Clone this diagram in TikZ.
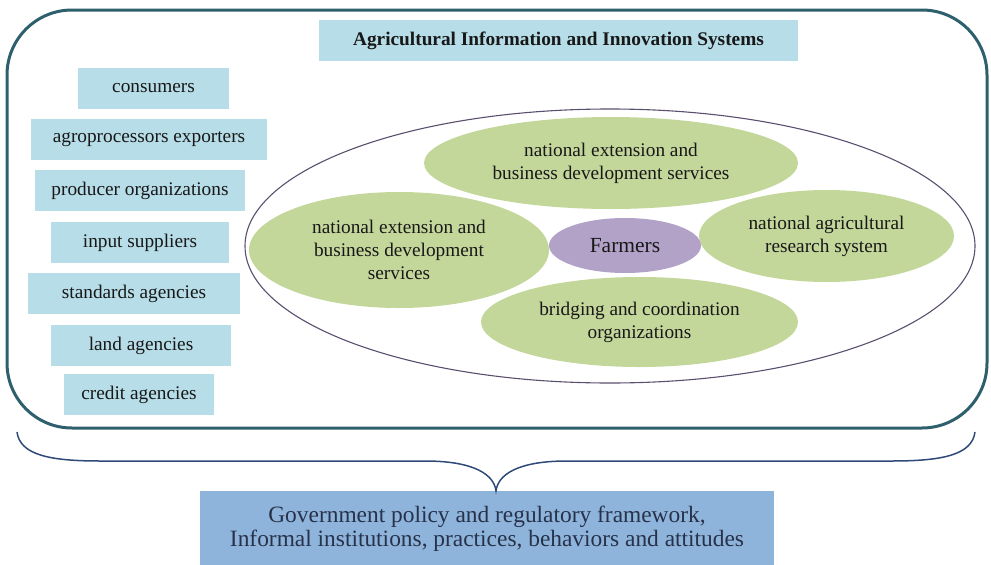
\documentclass[tikz,border=0pt]{standalone}
\usepackage{fontspec}
\setmainfont{Liberation Serif}
\usetikzlibrary{shapes.geometric}
\definecolor{frame}{RGB}{46,95,108}
\definecolor{lblue}{RGB}{183,221,232}
\definecolor{mblue}{RGB}{142,180,219}
\definecolor{ggreen}{RGB}{196,215,155}
\definecolor{gpurple}{RGB}{178,162,199}
\definecolor{ringc}{RGB}{91,79,111}
\definecolor{bracec}{RGB}{47,74,120}
\definecolor{txt}{RGB}{24,24,24}
\definecolor{btxt}{RGB}{39,50,74}
\tikzset{
  lbox/.style={rectangle, fill=lblue, inner sep=0pt, minimum height=41pt, text=txt,
    font=\fontsize{19.3}{23}\selectfont},
  gell/.style={ellipse, fill=ggreen, inner sep=0pt, align=center, text=txt,
    font=\fontsize{19.3}{23}\selectfont},
}
\begin{document}
\begin{tikzpicture}[x=1pt,y=-1pt]
\useasboundingbox (0,0) rectangle (991,565);
% outer frame
\draw[frame, line width=3pt, rounded corners=65pt] (7,10) rectangle (987,428);
% title
\node[lbox, minimum width=479pt, font=\fontsize{19.3}{22}\selectfont\bfseries] (title) at (558.5,40.5) {Agricultural Information and Innovation Systems};
% left boxes
\node[lbox, minimum width=151pt] (cons) at (153.5,88.5) {consumers};
\node[lbox, minimum width=236pt] (agro) at (149,139.5) {agroprocessors exporters};
\node[lbox, minimum width=210pt] (prod) at (140,190.5) {producer organizations};
\node[lbox, minimum width=178pt] (inp) at (140,242.5) {input suppliers};
\node[lbox, minimum width=212pt] (std) at (134,293.5) {standards agencies};
\node[lbox, minimum width=180pt] (land) at (141,345.5) {land agencies};
\node[lbox, minimum width=150pt] (cred) at (139,394.5) {credit agencies};
% system ellipse
\node[ellipse, draw=ringc, line width=1.1pt, minimum width=730pt, minimum height=274pt, inner sep=0pt] (sys) at (610,246) {};
% inner ellipses
\node[gell, minimum width=374pt, minimum height=92pt] (ext1) at (611,163) {national extension and\\business development services};
\node[gell, minimum width=300pt, minimum height=116pt] (ext2) at (399,250) {national extension and\\business development\\services};
\node[gell, minimum width=255pt, minimum height=92pt] (nars) at (826.5,236) {national agricultural\\research system};
\node[gell, minimum width=317pt, minimum height=90pt] (bridge) at (639.5,322) {bridging and coordination\\organizations};
\node[ellipse, fill=gpurple, inner sep=0pt, minimum width=152pt, minimum height=55pt, text=txt, font=\fontsize{21.5}{24}\selectfont] (farm) at (625,245.5) {Farmers};
% bottom box
\node[rectangle, fill=mblue, inner sep=0pt, minimum width=574pt, minimum height=75pt, align=center, text=btxt, font=\fontsize{23.4}{24}\selectfont] (gov) at (487,528.5) {Government policy and regulatory framework,\\Informal institutions, practices, behaviors and attitudes};
% brace
\coordinate (bl) at (17,432);
\coordinate (br) at (975,432);
\coordinate (tip) at ([xshift=9pt]gov.north);
\draw[bracec, line width=1.5pt] (bl) .. controls (20,455) and (50,461) .. (100,461) -- (425,461)
  .. controls (475,461) and (494,475) .. (tip) .. controls (498,475) and (517,461) .. (567,461)
  -- (892,461) .. controls (942,461) and (972,455) .. (br);
\end{tikzpicture}
\end{document}
